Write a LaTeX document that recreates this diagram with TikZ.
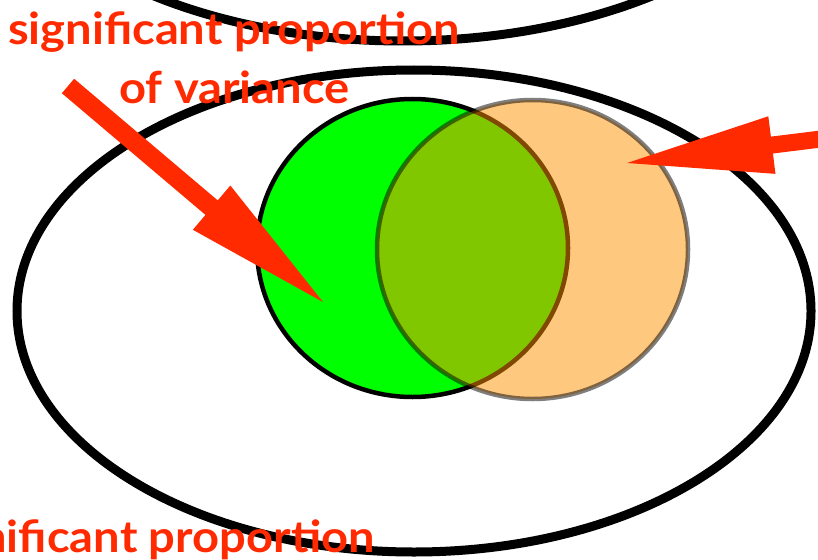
\documentclass[tikz,border=0pt]{standalone}
\usepackage{fontspec}
\setmainfont{Lato}
\usetikzlibrary{calc}
\definecolor{arrowred}{RGB}{255,42,0}
\definecolor{vgreen}{RGB}{0,255,0}
\definecolor{vorange}{RGB}{255,145,0}
\tikzset{
  bigring/.style={draw=black,line width=9pt},
  greenset/.style={draw=black,line width=4.5pt,fill=vgreen},
  orangeset/.style={draw=black,draw opacity=0.5,fill=vorange,fill opacity=0.5,line width=4.5pt},
  redlabel/.style={text=arrowred,font=\fontsize{44}{58}\selectfont\bfseries,inner sep=0pt},
  redfill/.style={fill=arrowred}
}
\newcommand{\widetext}[1]{\scalebox{1.07}[1]{#1}}
\begin{document}
\begin{tikzpicture}[x=1pt,y=-1pt]
\useasboundingbox (0,0) rectangle (818,559);
\clip (0,0) rectangle (818,559);
% ellipses
\draw[bigring] (403,-203) ellipse [x radius=430, y radius=244];
\draw[bigring] (414,311) ellipse [x radius=397, y radius=241];
% sets
\draw[greenset] (412.5,248) ellipse [x radius=155.5, y radius=149];
\draw[orangeset] (532.5,249.5) ellipse [x radius=155.5, y radius=149.5];
% arrow 1
\coordinate (t1) at (68,86);
\coordinate (p1) at (323,302);
\coordinate (b1) at ($(p1)!146pt!(t1)$);
\fill[redfill] ($(t1)!9.5pt!90:(p1)$) -- ($(b1)!9.5pt!90:(p1)$) -- ($(b1)!29pt!90:(p1)$) -- (p1)
  -- ($(b1)!29pt!-90:(p1)$) -- ($(b1)!9.5pt!-90:(p1)$) -- ($(t1)!9.5pt!-90:(p1)$) -- cycle;
% arrow 2
\coordinate (t2) at (880,131.7);
\coordinate (p2) at (627,163);
\coordinate (b2) at ($(p2)!146pt!(t2)$);
\fill[redfill] ($(t2)!8.5pt!90:(p2)$) -- ($(b2)!8.5pt!90:(p2)$) -- ($(b2)!29pt!90:(p2)$) -- (p2)
  -- ($(b2)!29pt!-90:(p2)$) -- ($(b2)!8.5pt!-90:(p2)$) -- ($(t2)!8.5pt!-90:(p2)$) -- cycle;
% labels
\node[redlabel,anchor=base] (top1) at (234,45) {\widetext{significant proportion}};
\node[redlabel,anchor=base] (top2) at (234.5,103) {\widetext{of variance}};
\node[redlabel,anchor=base east] (bottom) at (375,552) {\widetext{significant proportion}};
\end{tikzpicture}
\end{document}
